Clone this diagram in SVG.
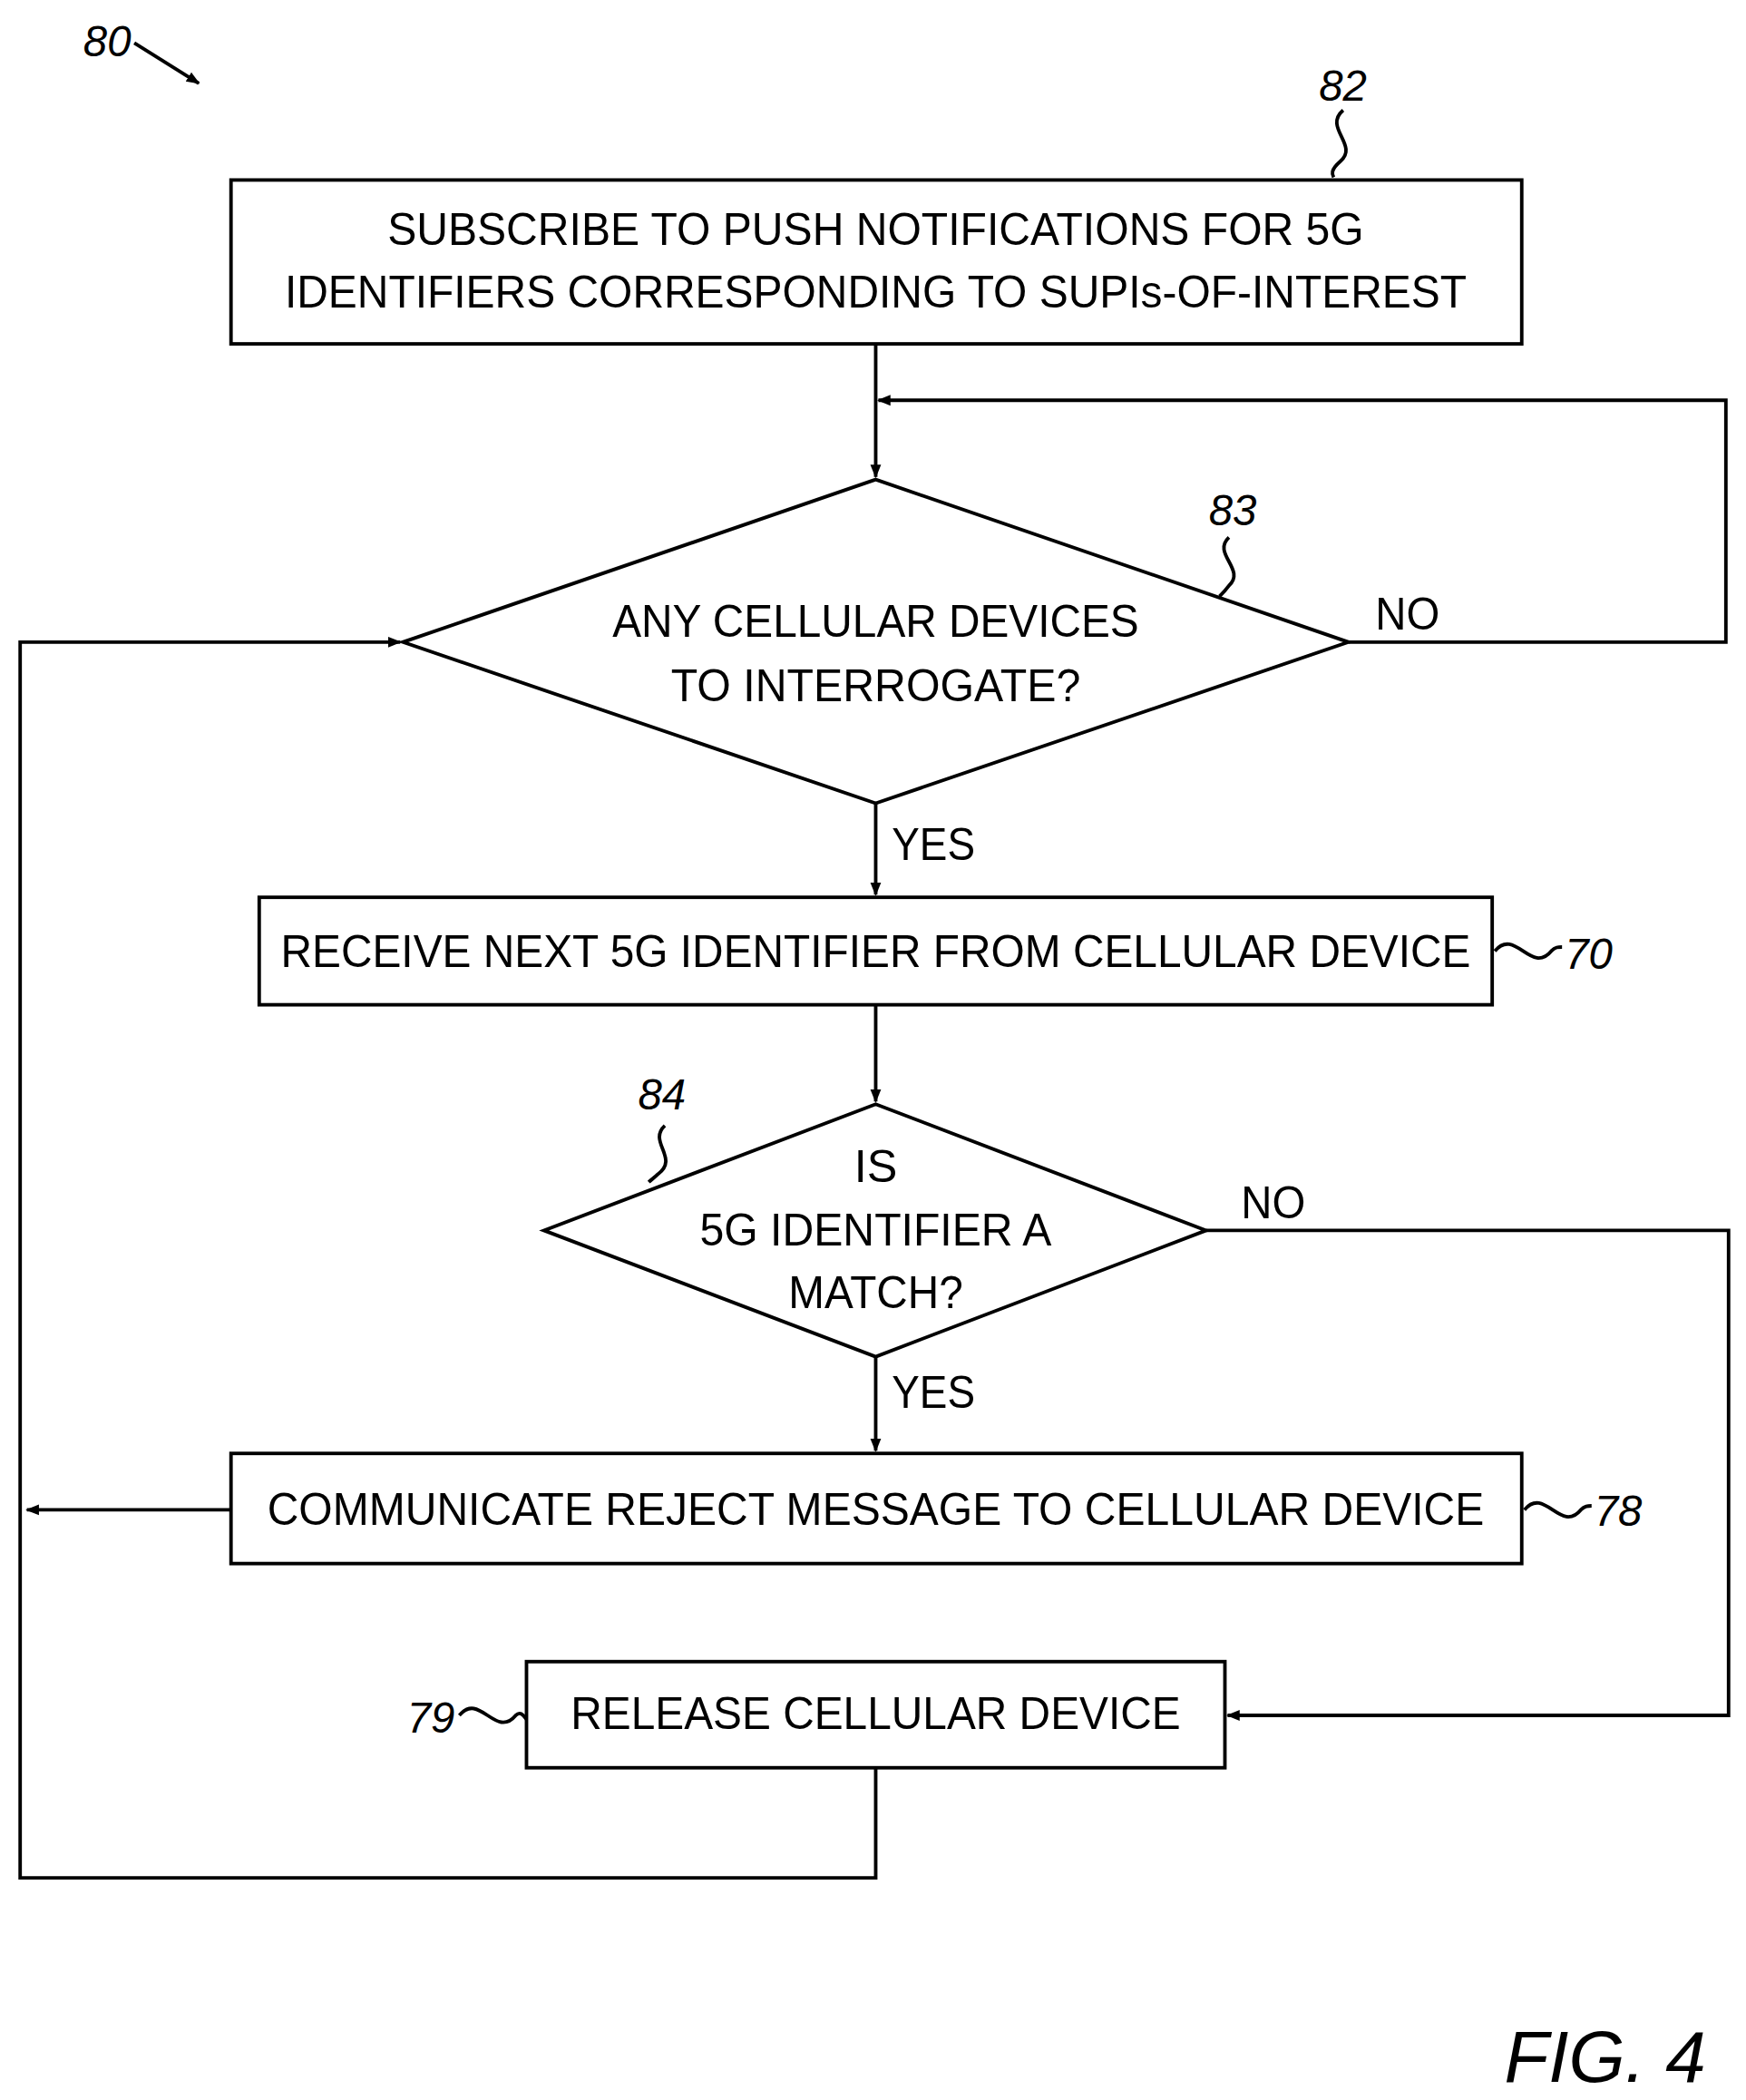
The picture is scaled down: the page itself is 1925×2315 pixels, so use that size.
<svg xmlns="http://www.w3.org/2000/svg" width="1925" height="2315" viewBox="0 0 1925 2315">
<defs>
<marker id="ah" markerWidth="10" markerHeight="10" refX="9" refY="5" orient="auto" markerUnits="userSpaceOnUse" viewBox="0 0 10 10"><path d="M0,1 L10,5 L0,9 z" fill="#000"/></marker>
<style>
.s{fill:#fff;stroke:#000;stroke-width:2.6}
.c{fill:none;stroke:#000;stroke-width:2.6}
.t{font-family:"Liberation Sans Narrow","Liberation Sans",Arial,sans-serif;font-size:34px;text-anchor:middle;fill:#000}
.r{font-family:"Liberation Sans",Arial,sans-serif;font-style:italic;font-size:32px;fill:#000}
</style>
</defs>
<rect width="1925" height="2315" fill="#fff"/>
<g transform="scale(1.4808)">
<g id="connectors">
<path class="c" d="M100,32 L148,62" marker-end="url(#ah)"/>
<path class="c" d="M652,256 L652,355" marker-end="url(#ah)"/>
<path class="c" d="M1004,478 L1285,478 L1285,298 L654,298" marker-end="url(#ah)"/>
<path class="c" d="M652,598 L652,666" marker-end="url(#ah)"/>
<path class="c" d="M652,748 L652,820" marker-end="url(#ah)"/>
<path class="c" d="M898,916 L1287,916 L1287,1277 L914,1277" marker-end="url(#ah)"/>
<path class="c" d="M652,1010 L652,1080" marker-end="url(#ah)"/>
<path class="c" d="M172,1124 L20,1124" marker-end="url(#ah)"/>
<path class="c" d="M652,1316 L652,1398 L15,1398 L15,478 L298,478" marker-end="url(#ah)"/>
<path class="c" d="M1000,82 C985,95 1012,108 998,120 C990,127 992,130 993,132"/>
<path class="c" d="M915,400 C902,412 928,424 915,436 C912,440 910,442 908,444"/>
<path class="c" d="M1113,708 C1128,690 1140,726 1155,708 C1158,705 1160,705 1163,705"/>
<path class="c" d="M495,838 C482,850 506,862 490,874 C487,877 485,878 483,880"/>
<path class="c" d="M1135,1124 C1150,1106 1162,1142 1177,1124 C1180,1121 1182,1121 1185,1121"/>
<path class="c" d="M342,1277 C357,1259 369,1295 384,1277 C387,1274 389,1276 392,1280"/>
</g>
<g id="n82"><rect class="s" x="172" y="134" width="961" height="122"/>
<text class="t" x="652" y="182" textLength="727" lengthAdjust="spacingAndGlyphs">SUBSCRIBE TO PUSH NOTIFICATIONS FOR 5G</text>
<text class="t" x="652" y="229" textLength="880" lengthAdjust="spacingAndGlyphs">IDENTIFIERS CORRESPONDING TO SUPIs-OF-INTEREST</text></g>
<g id="n83"><polygon class="s" points="652,357 1004,478 652,598 300,478"/>
<text class="t" x="652" y="474" textLength="392" lengthAdjust="spacingAndGlyphs">ANY CELLULAR DEVICES</text>
<text class="t" x="652" y="522" textLength="305" lengthAdjust="spacingAndGlyphs">TO INTERROGATE?</text></g>
<g id="n70"><rect class="s" x="193" y="668" width="918" height="80"/>
<text class="t" x="652" y="720" textLength="886" lengthAdjust="spacingAndGlyphs">RECEIVE NEXT 5G IDENTIFIER FROM CELLULAR DEVICE</text></g>
<g id="n84"><polygon class="s" points="652,822 898,916 652,1010 405,916"/>
<text class="t" x="652" y="880">IS</text>
<text class="t" x="652" y="927" textLength="262" lengthAdjust="spacingAndGlyphs">5G IDENTIFIER A</text>
<text class="t" x="652" y="974" textLength="130" lengthAdjust="spacingAndGlyphs">MATCH?</text></g>
<g id="n78"><rect class="s" x="172" y="1082" width="961" height="82"/>
<text class="t" x="652" y="1135" textLength="906" lengthAdjust="spacingAndGlyphs">COMMUNICATE REJECT MESSAGE TO CELLULAR DEVICE</text></g>
<g id="n79"><rect class="s" x="392" y="1237" width="520" height="79"/>
<text class="t" x="652" y="1287" textLength="454" lengthAdjust="spacingAndGlyphs">RELEASE CELLULAR DEVICE</text></g>
<g id="labels">
<text class="t" x="1048" y="469" textLength="48" lengthAdjust="spacingAndGlyphs">NO</text>
<text class="t" x="695" y="640" textLength="62" lengthAdjust="spacingAndGlyphs">YES</text>
<text class="t" x="948" y="907" textLength="48" lengthAdjust="spacingAndGlyphs">NO</text>
<text class="t" x="695" y="1048" textLength="62" lengthAdjust="spacingAndGlyphs">YES</text>
<text class="r" x="62" y="42">80</text>
<text class="r" x="982" y="75">82</text>
<text class="r" x="900" y="391">83</text>
<text class="r" x="1165" y="721">70</text>
<text class="r" x="475" y="826">84</text>
<text class="r" x="1187" y="1136">78</text>
<text class="r" x="303" y="1290">79</text>
<text class="r" x="1120" y="1550" style="font-size:54px;font-style:italic">FIG. 4</text>
</g>
</g>
</svg>
